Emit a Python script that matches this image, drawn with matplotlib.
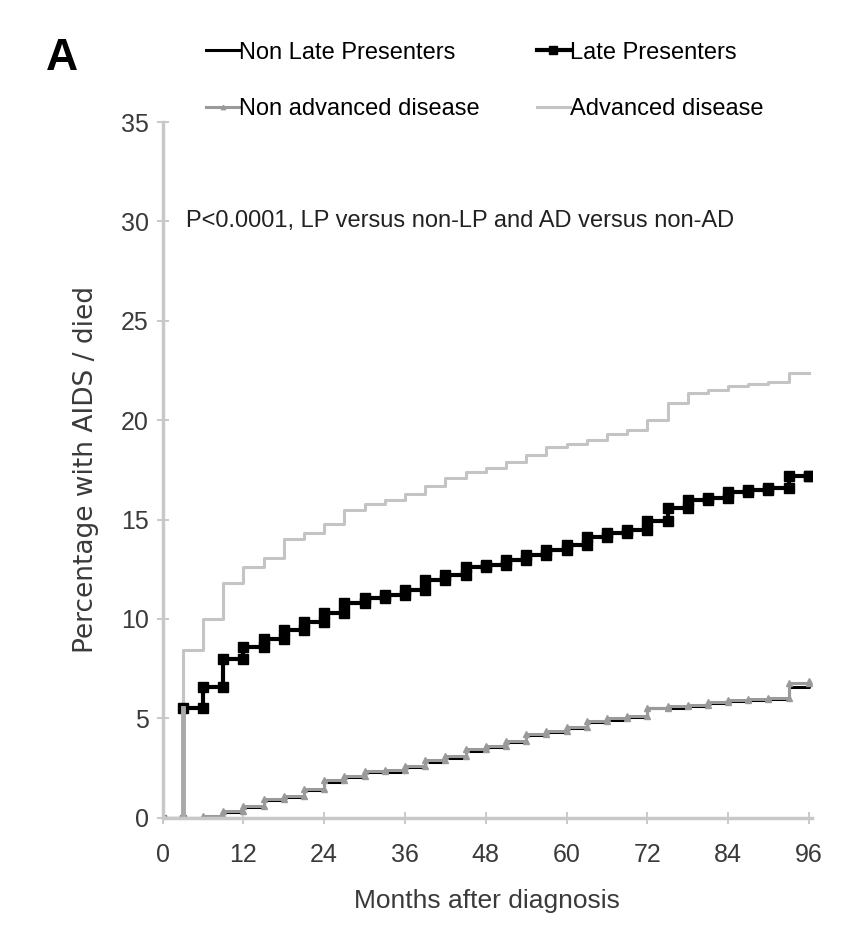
import matplotlib
matplotlib.use("Agg")
import matplotlib.pyplot as plt
import numpy as np

plt.rcParams['font.family'] = ['Liberation Sans', 'DejaVu Sans']

# months after diagnosis, a step every 3 months
months = list(range(0, 99, 3))

late = [0, 5.5, 6.6, 8.0, 8.6, 9.0, 9.45, 9.85, 10.3, 10.8, 11.05, 11.2, 11.45,
        11.95, 12.2, 12.6, 12.7, 12.95, 13.2, 13.45, 13.7, 14.1, 14.3, 14.5,
        14.95, 15.6, 16.0, 16.1, 16.4, 16.5, 16.6, 17.2, 17.2]
non_late = [0, 0, 0.05, 0.3, 0.55, 0.9, 1.05, 1.4, 1.8, 2.05, 2.3, 2.3, 2.55,
            2.8, 3.0, 3.35, 3.55, 3.8, 4.15, 4.3, 4.5, 4.8, 4.9, 5.05, 5.5,
            5.5, 5.6, 5.75, 5.85, 5.9, 5.95, 6.6, 6.7]
advanced = [0, 8.45, 10.0, 11.8, 12.6, 13.05, 14.0, 14.3, 14.8, 15.5, 15.8,
            16.0, 16.3, 16.7, 17.1, 17.4, 17.6, 17.9, 18.25, 18.65, 18.8, 19.0,
            19.3, 19.5, 20.0, 20.85, 21.35, 21.5, 21.7, 21.8, 21.9, 22.4, 22.4]
non_advanced = [0, 0, 0.1, 0.35, 0.6, 0.95, 1.1, 1.45, 1.9, 2.1, 2.35, 2.4,
                2.6, 2.9, 3.1, 3.45, 3.6, 3.85, 4.2, 4.35, 4.55, 4.85, 5.0,
                5.1, 5.5, 5.6, 5.65, 5.8, 5.9, 5.95, 6.0, 6.8, 6.9]

xticks = list(range(0, 97, 12))
yticks = list(range(0, 36, 5))


def steps(t, v):
    # vertices of a step curve, both corners of every step
    t = np.asarray(t, float)
    v = np.asarray(v, float)
    return np.repeat(t, 2)[1:], np.repeat(v, 2)[:-1]


fig = plt.figure(figsize=(8.65, 9.25), dpi=100)
ax = fig.add_axes([0.188, 0.116, 0.751, 0.752])

x, y = steps(months, non_late)
h_nl, = ax.plot(x, y, color='black', lw=2.2, label='Non Late Presenters')
x, y = steps(months, non_advanced)
h_na, = ax.plot(x, y, color='#9a9a9a', lw=2.2, marker='^', ms=4,
                label='Non advanced disease')
x, y = steps(months, advanced)
h_ad, = ax.plot(x, y, color='#c4c4c4', lw=2.2, label='Advanced disease')
x, y = steps(months[1:], late[1:])
h_lp, = ax.plot(x, y, color='black', lw=3, marker='s', ms=6.5,
                label='Late Presenters')
ax.plot(months[:2], late[:1] * 2, color='#808080', lw=1.5, marker='s',
        ms=5, mfc='white')
# first jump of the late presenter curve, drawn grey as in the figure
ax.plot([months[1]] * 2, late[:2], color='#a8a8a8', lw=3.5)

ax.set_xlim(0, 96.5)
ax.set_ylim(0, 35)
ax.set_xticks(xticks)
ax.set_yticks(yticks)
ax.tick_params(direction='inout', length=8, width=1.2, colors='#c0c0c0',
               labelcolor='#3a3a3a', labelsize=18)
ax.tick_params(axis='x', pad=14)
ax.tick_params(axis='y', pad=6)
for s in ['top', 'right']:
    ax.spines[s].set_visible(False)
for s in ['left', 'bottom']:
    ax.spines[s].set_color('#c8c8c8')
    ax.spines[s].set_linewidth(2.5)

ax.set_xlabel('Months after diagnosis', fontsize=19, color='#3a3a3a', labelpad=16)
ax.set_ylabel('Percentage with AIDS / died', fontsize=19, color='#3a3a3a',
              labelpad=16, family='DejaVu Sans')

ax.text(3.5, 30, 'P<0.0001, LP versus non-LP and AD versus non-AD',
        fontsize=17, color='#222222', va='center')

fig.text(0.053, 0.937, 'A', fontsize=32, fontweight='bold', va='center')

fig.legend(handles=[h_nl, h_na, h_lp, h_ad], ncol=2, loc='upper left',
           bbox_to_anchor=(0.214, 0.978), frameon=False, fontsize=17,
           handlelength=1.4, handletextpad=0.0, columnspacing=2.4,
           labelspacing=1.45, markerscale=0.8)

fig.savefig('out.png', dpi=100)
